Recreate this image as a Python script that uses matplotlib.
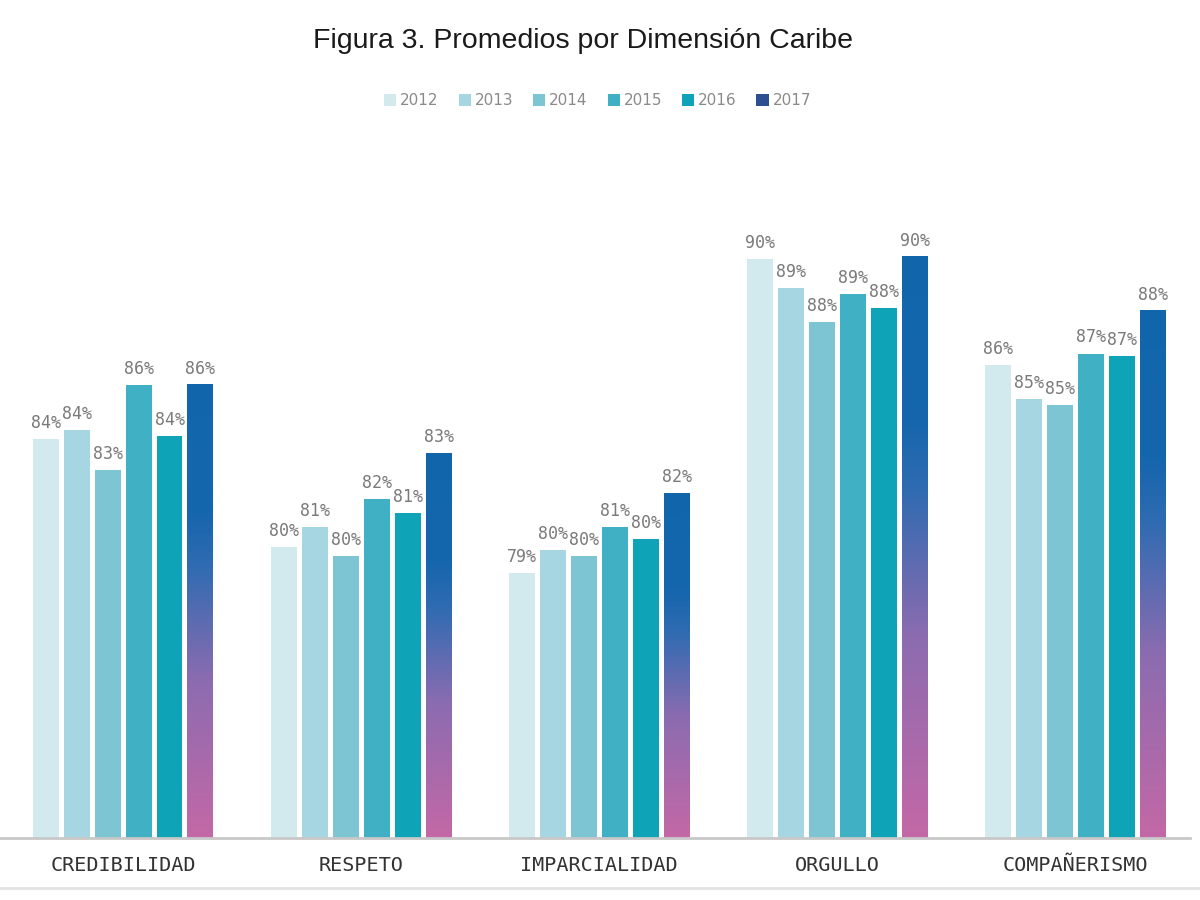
import numpy as np
import matplotlib
matplotlib.use("Agg")
import matplotlib.pyplot as plt
from matplotlib.patches import Patch
from matplotlib.colors import LinearSegmentedColormap
from matplotlib.lines import Line2D

# datos
categorias = ["CREDIBILIDAD", "RESPETO", "IMPARCIALIDAD", "ORGULLO", "COMPAÑERISMO"]
anios = ["2012", "2013", "2014", "2015", "2016", "2017"]
v2012 = [83.7, 79.9, 79.0, 90.0, 86.3]
v2013 = [84.0, 80.6, 79.8, 89.0, 85.1]
v2014 = [82.6, 79.6, 79.6, 87.8, 84.9]
v2015 = [85.6, 81.6, 80.6, 88.8, 86.7]
v2016 = [83.8, 81.1, 80.2, 88.3, 86.6]
v2017 = [85.6, 83.2, 81.8, 90.1, 88.2]
series = [v2012, v2013, v2014, v2015, v2016, v2017]

colores = ["#d2e9ee", "#a6d6e1", "#7dc5d3", "#40b1c5", "#0fa3b8", "#1166ab"]
ley_colores = ["#d2e9ee", "#a6d6e1", "#7dc5d3", "#40b1c5", "#0fa3b8", "#2b4f91"]

ymin = 69.7
paso = 0.130
ancho = 0.109

fig = plt.figure(figsize=(12, 9), dpi=100)
ax = fig.add_axes([0.0, 0.0689, 0.992, 0.775 - 0.0689])

grad = LinearSegmentedColormap.from_list(
    "g17", [(0.0, "#c468a6"), (0.35, "#8b6cb0"), (0.6, "#2f6bb2"), (0.72, "#1566ad"), (1.0, "#1166ab")])

x = np.arange(len(categorias))
for j, vals in enumerate(series):
    xs = x + (j - 2.5) * paso
    if j < 5:
        ax.bar(xs, np.array(vals) - ymin, bottom=ymin, width=ancho, color=colores[j], zorder=2)
    else:
        # 2017 con degradado
        for xi, v in zip(xs, vals):
            g = np.linspace(0, 1, 256).reshape(-1, 1)
            ax.imshow(g, cmap=grad, origin="lower", aspect="auto",
                      extent=(xi - ancho / 2, xi + ancho / 2, ymin, v), zorder=2)
    for xi, v in zip(xs, vals):
        ax.text(xi, v + 0.25, "%d%%" % int(v + 0.5), ha="center", va="bottom",
                fontsize=12, color="#7a7a7a", family="DejaVu Sans Mono")

ax.set_xlim(-0.517, 4.483)
ax.set_ylim(ymin, 92)
for s in ["top", "right", "left"]:
    ax.spines[s].set_visible(False)
ax.spines["bottom"].set_color("#c8c8c8")
ax.spines["bottom"].set_linewidth(2)
ax.set_yticks([])
ax.set_xticks(x)
ax.set_xticklabels(categorias, family="DejaVu Sans Mono", fontsize=14.5, color="#333333")
ax.tick_params(axis="x", length=0, pad=13)

fig.text(0.486, 0.955, "Figura 3. Promedios por Dimensión Caribe", ha="center", va="center",
         fontsize=20.5, family="Liberation Sans", color="#1a1a1a")

handles = [Patch(facecolor=c, edgecolor="none") for c in ley_colores]
leg = fig.legend(handles, anios, loc="center", bbox_to_anchor=(0.498, 0.888), ncol=6,
                 frameon=False, fontsize=11, handlelength=0.8, handleheight=0.8,
                 handletextpad=0.25, columnspacing=1.3)
for t in leg.get_texts():
    t.set_color("#8a8a8a")

fig.add_artist(Line2D([0, 1], [1 - 888 / 900, 1 - 888 / 900], color="#e2e2e2", lw=2,
                      transform=fig.transFigure))

fig.savefig("out.png", dpi=100, facecolor="white")
